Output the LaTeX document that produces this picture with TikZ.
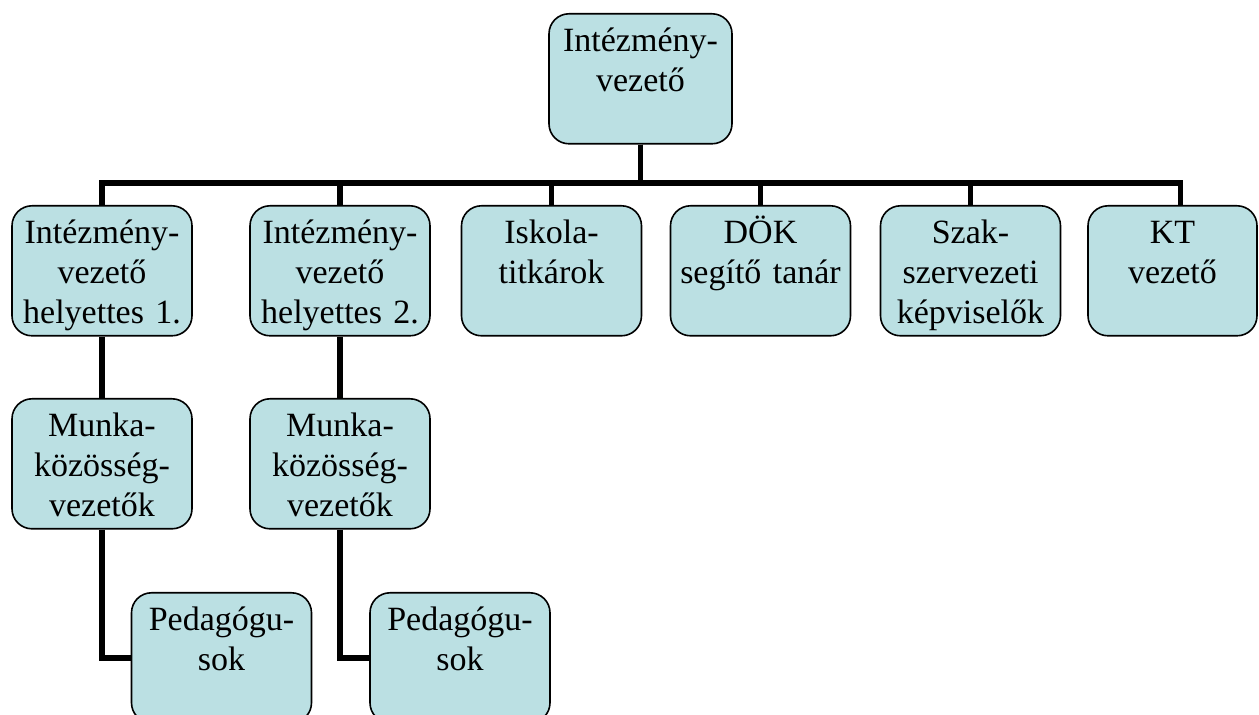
\documentclass[tikz,border=0pt]{standalone}
\usepackage{fontspec}
\setmainfont{Liberation Serif}
\definecolor{boxblue}{RGB}{187,224,227}
\begin{document}
\begin{tikzpicture}[x=0.5pt,y=-0.5pt]

    \tikzset{
      box/.style={
        draw,
        fill=boxblue,
        line width=0.8pt,
        rounded corners=10pt,
        anchor=north,
        inner sep=0pt,
        text width=90pt,
        align=center,
        text height=19pt,
        text depth=46pt,
        font=\fontsize{17}{20}\selectfont,
      },
      link/.style={
        line width=2.8pt,
      },
    }

	\useasboundingbox (0,0) rectangle (1259,715);

	\node[box,text width=91.5pt] (top) at (640.5,13) {Intézmény-\\vezető};

	\node[box] (h1) at (102,205) {Intézmény-\\vezető\\helyettes 1.};
	\node[box] (h2) at (340,205) {Intézmény-\\vezető\\helyettes 2.};
	\node[box] (isk) at (551.5,205) {Iskola-\\titkárok};
	\node[box] (dok) at (760.5,205) {DÖK\\segítő tanár};
	\node[box] (szak) at (970.5,205) {Szak-\\szervezeti\\képviselők};
	\node[box,text width=84.5pt] (kt) at (1172.5,205) {KT\\vezető};

	\node[box] (m1) at (102,398) {Munka-\\közösség-\\vezetők};
	\node[box] (m2) at (340,398) {Munka-\\közösség-\\vezetők};

	\node[box] (p1) at (221.5,592) {Pedagógu-\\sok};
	\node[box] (p2) at (460,592) {Pedagógu-\\sok};

	\coordinate (bar) at (0,183);

	\draw[link] (h1.north |- bar) -- ([xshift=4pt]kt.north |- bar);
	\foreach \n in {h1,h2,isk,dok,szak}
		\draw[link] (top.south) -- (top.south |- bar) -| (\n.north);
	\draw[link] (top.south) -- (top.south |- bar) -| ([xshift=4pt]kt.north);

	\draw[link] (h1) -- (m1);
	\draw[link] (h2) -- (m2);
	\draw[link] (m1.south) |- (p1.west);
	\draw[link] (m2.south) |- (p2.west);

\end{tikzpicture}
\end{document}
